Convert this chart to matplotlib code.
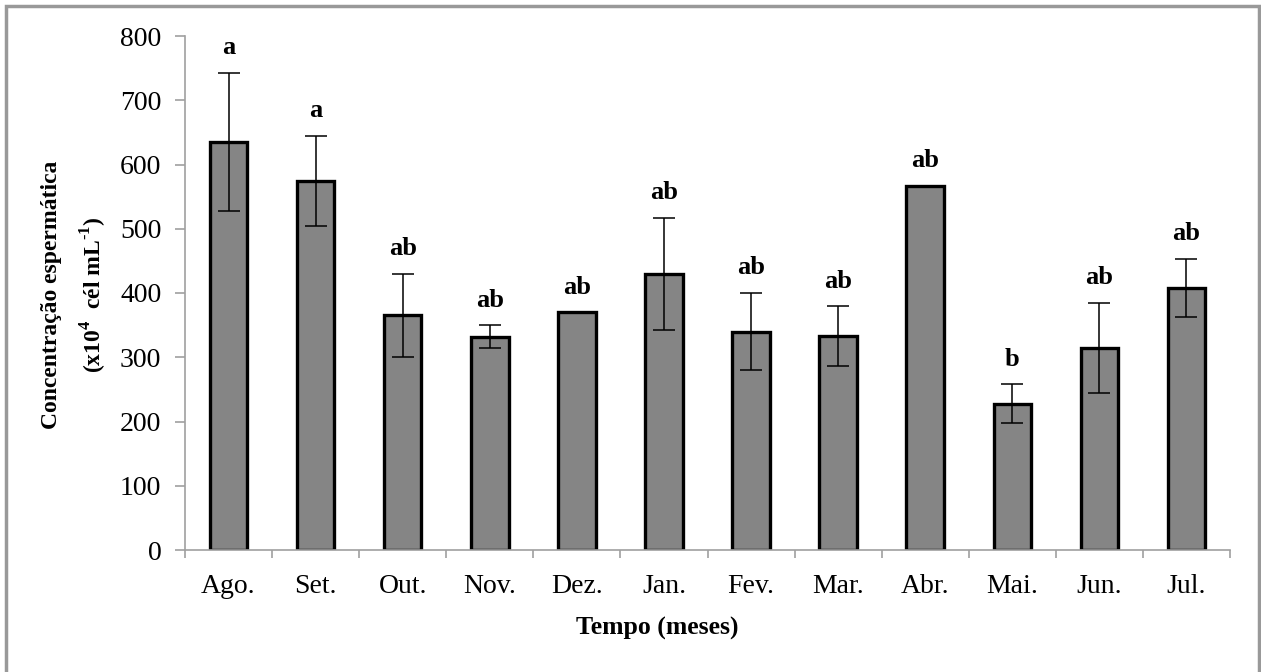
import numpy as np
import matplotlib.pyplot as plt
from matplotlib.patches import Rectangle

plt.rcParams['font.family'] = ['Liberation Serif', 'DejaVu Serif']
plt.rcParams['mathtext.fontset'] = 'custom'
plt.rcParams['mathtext.rm'] = 'Liberation Serif'
plt.rcParams['mathtext.bf'] = 'Liberation Serif:bold'

meses = ['Ago.', 'Set.', 'Out.', 'Nov.', 'Dez.', 'Jan.',
         'Fev.', 'Mar.', 'Abr.', 'Mai.', 'Jun.', 'Jul.']
media = [635, 575, 365, 332, 370, 430, 340, 333, 567, 228, 315, 408]
erro = [108, 70, 65, 18, np.nan, 87, 60, 46, np.nan, 30, 70, 45]
letras = ['a', 'a', 'ab', 'ab', 'ab', 'ab', 'ab', 'ab', 'ab', 'b', 'ab', 'ab']

cinza = '#a0a0a0'

fig = plt.figure(figsize=(12.61, 6.72), dpi=100)
ax = fig.add_axes([185/1261, 1 - 550/672, (1230-185)/1261, (550-36)/672])

x = np.arange(len(meses))
ax.bar(x, media, width=0.43, color='#858585', edgecolor='black',
       linewidth=2.4, zorder=2)
ax.errorbar(x, media, yerr=erro, fmt='none', ecolor='black',
            elinewidth=1.1, capsize=8, capthick=1.1, zorder=3)

for xi, m, e, t in zip(x, media, erro, letras):
    topo = m + (0 if np.isnan(e) else e)
    ax.annotate(t, (xi, topo), xytext=(0, 18), textcoords='offset points',
                ha='center', va='center', fontsize=19, fontweight='bold')

ax.set_xlim(-0.5, len(meses) - 0.5)
ax.set_ylim(0, 800)
ax.set_yticks(np.arange(0, 801, 100))
ax.set_xticks(x)
ax.set_xticklabels(meses)
ax.set_xticks(np.arange(-0.5, len(meses), 1), minor=True)

ax.tick_params(axis='x', which='major', length=0, pad=17, labelsize=20)
ax.tick_params(axis='x', which='minor', direction='out', length=6,
               color=cinza, width=1.2)
ax.tick_params(axis='y', direction='out', length=7, color=cinza, width=1.2,
               pad=10, labelsize=20)

for s in ['top', 'right']:
    ax.spines[s].set_visible(False)
for s in ['left', 'bottom']:
    ax.spines[s].set_color(cinza)
    ax.spines[s].set_linewidth(1.2)

fig.text(52/1261, 1 - 295/672, 'Concentração espermática',
         rotation=90, ha='center', va='center', fontsize=17, fontweight='bold')
fig.text(94/1261, 1 - 295/672,
         r'(x10$^{\mathbf{4}}$  cél mL$^{\mathbf{‐1}}$)',
         rotation=90, ha='center', va='center', fontsize=17, fontweight='bold')
fig.text(657/1261, 1 - 628/672, 'Tempo (meses)', ha='center', va='center',
         fontsize=18.5, fontweight='bold')

# moldura externa
fig.patches.append(Rectangle((6/1261, -0.05), 1253/1261, 1.05 - 6/672,
                             transform=fig.transFigure, fill=False,
                             edgecolor='#999999', linewidth=2.5))

fig.savefig('out.png', dpi=100)
